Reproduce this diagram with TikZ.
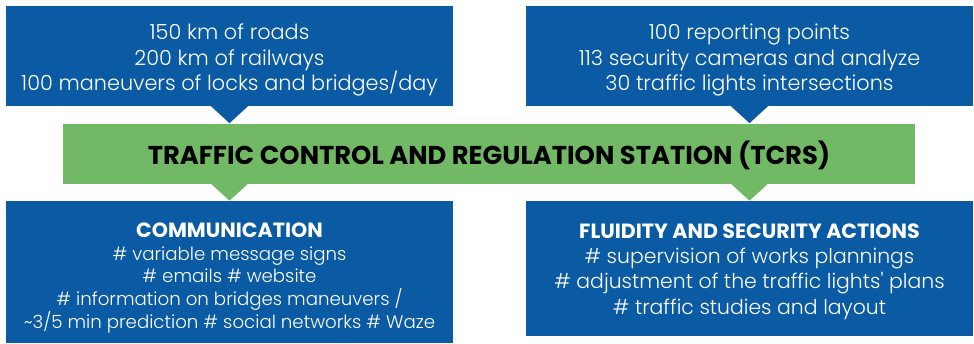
\documentclass[tikz,border=0pt]{standalone}
\usepackage{fontspec}
\setmainfont{Poppins Light}[BoldFont={Poppins Bold},Ligatures=TeXOff]
\usetikzlibrary{calc}
\definecolor{boxblue}{HTML}{0A5BA4}
\definecolor{bargreen}{HTML}{72B966}
\tikzset{
  bluebox/.style={fill=boxblue, inner sep=0pt, minimum width=447pt},
  boxtext/.style={text=white, inner sep=0pt, align=center, font=\fontsize{20.8}{25.5}\selectfont},
  greenbar/.style={fill=bargreen, text=black, inner sep=0pt, minimum width=852pt, minimum height=60pt},
  bartext/.style={text=black, inner sep=0pt, font=\fontsize{25.8}{28}\selectfont\bfseries},
}
\begin{document}
\begin{tikzpicture}[x=1pt,y=1pt]
\useasboundingbox (0,0) rectangle (974,343);
% boxes
\node[bluebox, minimum height=100pt] (tl) at (229.5,287) {};
\node[bluebox, minimum height=100pt] (tr) at (749.5,287) {};
\node[greenbar] (g) at (489,189) {};
\node[bluebox, minimum height=142pt] (bl) at (229.5,71) {};
\node[bluebox, minimum height=135pt] (br) at (749.5,74.5) {};
% texts
\node[boxtext] (tlt) at ([yshift=-4pt]tl.center) {150 km of roads\\200 km of railways\\100 maneuvers of locks and bridges/day};
\node[boxtext] (trt) at ([yshift=-4pt]tr.center) {100 reporting points\\113 security cameras and analyze\\30 traffic lights intersections};
\node[bartext] (gt) at ([yshift=-1.5pt]g.center) {TRAFFIC CONTROL AND REGULATION STATION (TCRS)};
\node[boxtext, font=\fontsize{18.2}{22.75}\selectfont] (blt) at ([yshift=-6pt]bl.center) {{\fontsize{20.6}{23}\selectfont\bfseries COMMUNICATION}\\\# variable message signs\\\# emails \# website\\\# information on bridges maneuvers /\\{\char"7E}3/5 min prediction \# social networks \# Waze};
\node[boxtext, font=\fontsize{20.4}{25.3}\selectfont] (brt) at ([yshift=-3pt]br.center) {{\fontsize{20.6}{25}\selectfont\bfseries FLUIDITY AND SECURITY ACTIONS}\\\# supervision of works plannings\\\# adjustment of the traffic lights' plans\\\# traffic studies and layout};
% pointers
\fill[boxblue] ([xshift=-18.5pt]tl.south) -- ([xshift=18.5pt]tl.south) -- ([yshift=-17pt]tl.south) -- cycle;
\fill[boxblue] ([xshift=-18.5pt]tr.south) -- ([xshift=18.5pt]tr.south) -- ([yshift=-17pt]tr.south) -- cycle;
\coordinate (gl) at (g.south -| bl.north);
\coordinate (gr) at (g.south -| br.north);
\fill[bargreen] ([xshift=-18pt]gl) -- ([xshift=18pt]gl) -- ([yshift=-16.5pt]gl) -- cycle;
\fill[bargreen] ([xshift=-18pt]gr) -- ([xshift=18pt]gr) -- ([yshift=-16.5pt]gr) -- cycle;
\end{tikzpicture}
\end{document}
